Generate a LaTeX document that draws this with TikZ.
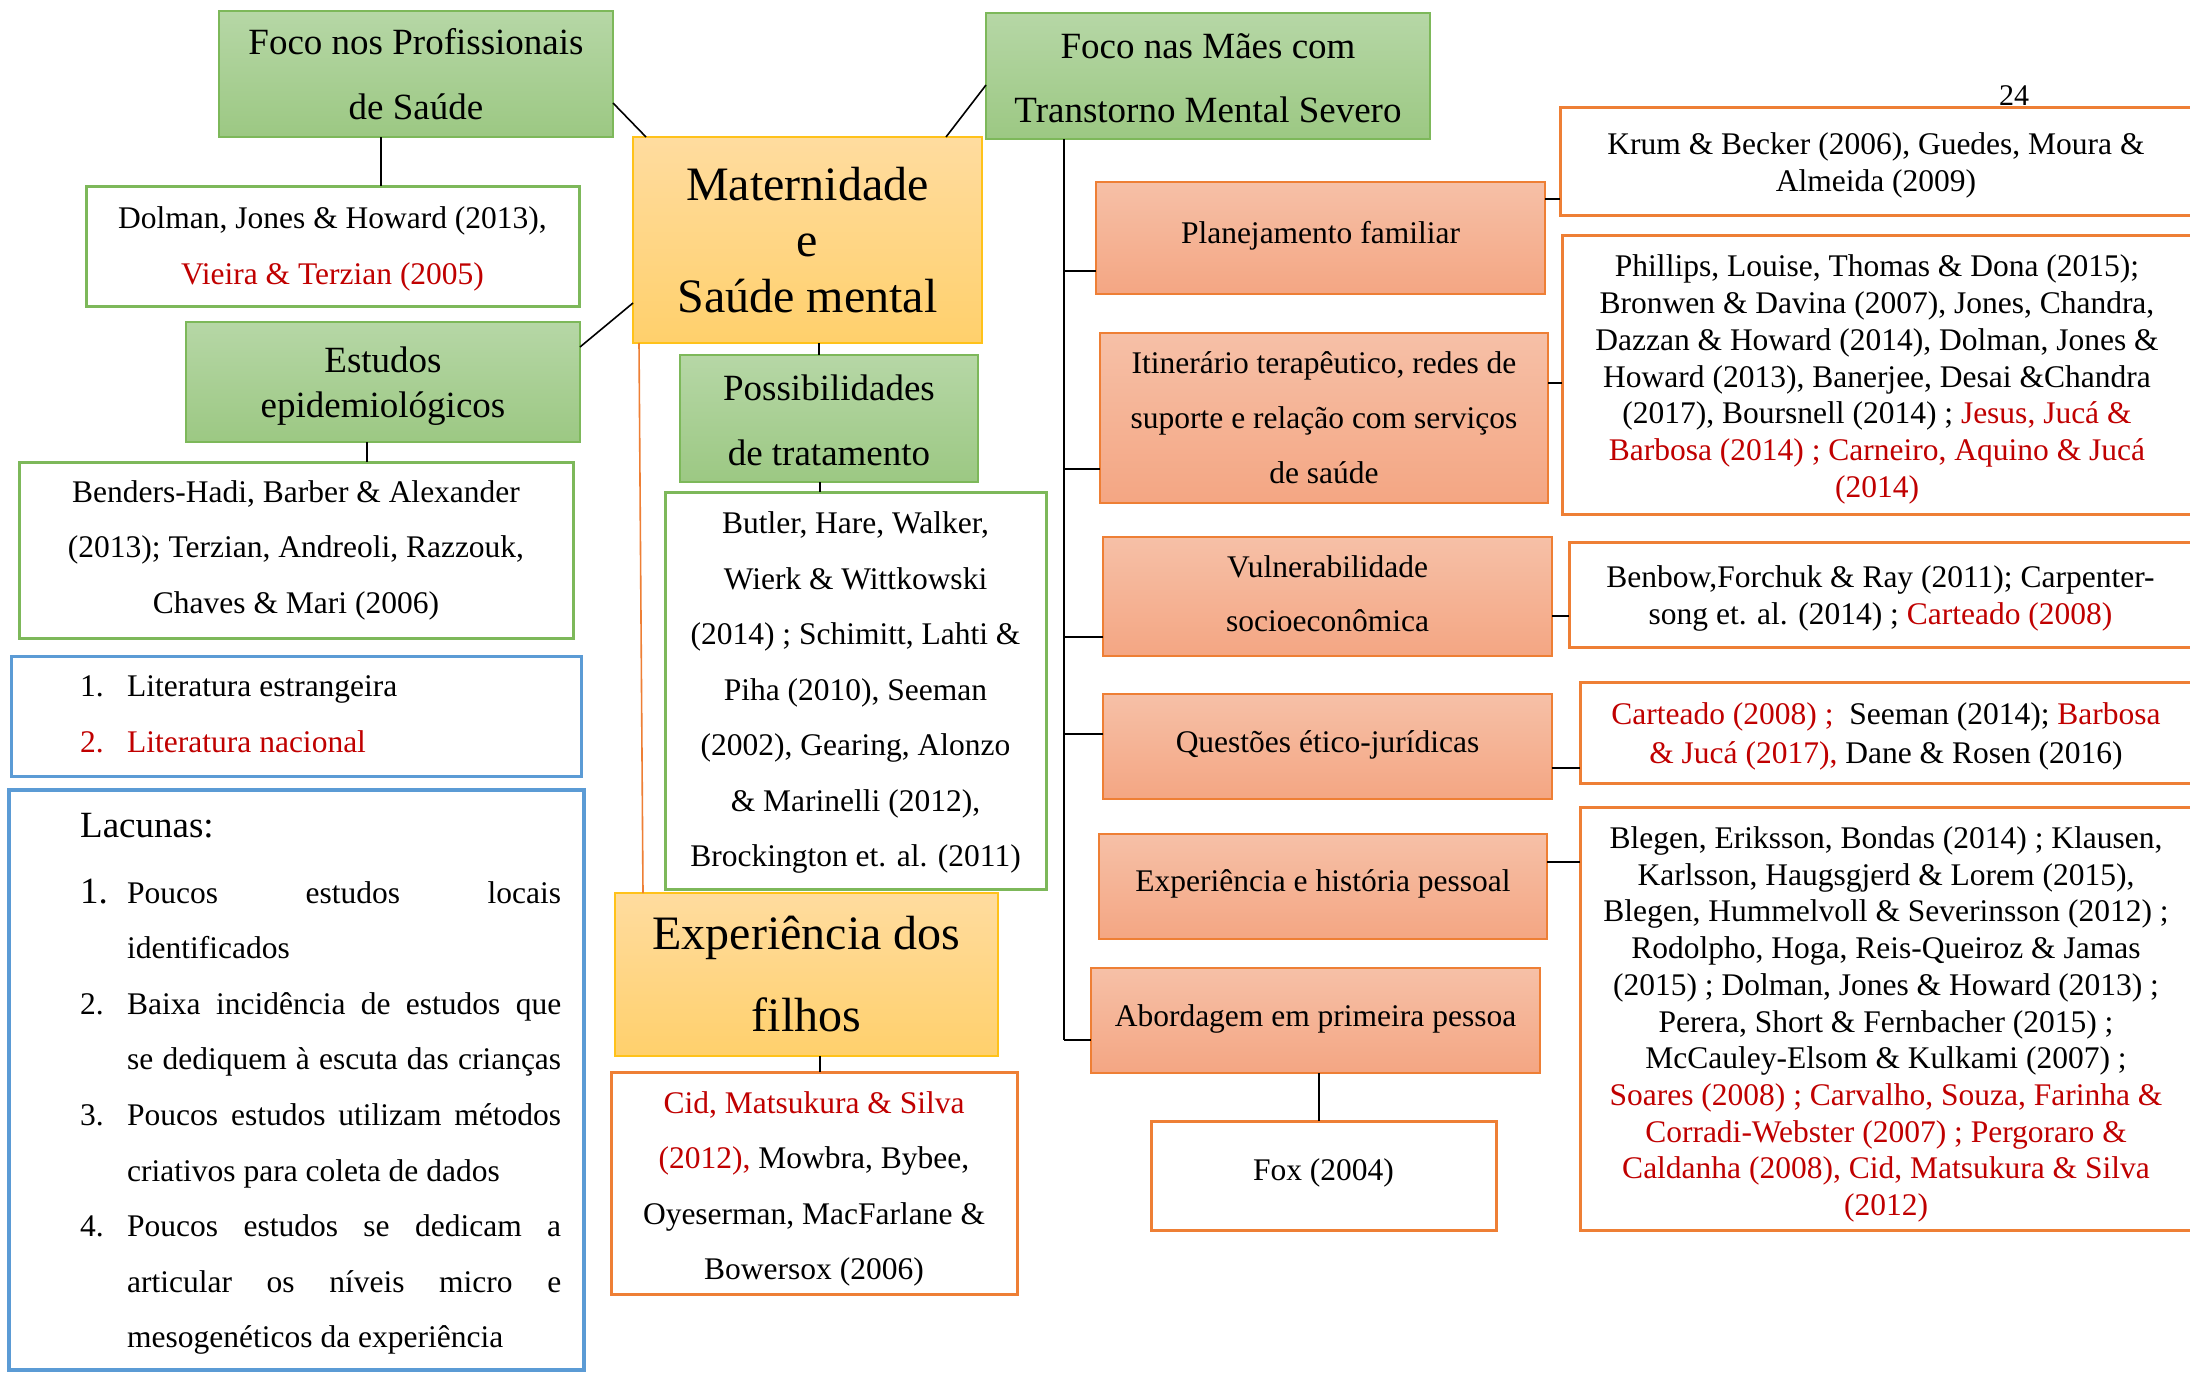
\documentclass[tikz,border=0pt]{standalone}
\usepackage{fontspec}
\setmainfont{Liberation Serif}
\usetikzlibrary{calc}
\definecolor{grTop}{HTML}{B6D7A6}
\definecolor{grBot}{HTML}{9CC883}
\definecolor{grLine}{HTML}{7DB85A}
\definecolor{ylTop}{HTML}{FFDC9F}
\definecolor{ylBot}{HTML}{FFD06C}
\definecolor{ylLine}{HTML}{FFC21A}
\definecolor{orTop}{HTML}{F6C0A7}
\definecolor{orBot}{HTML}{F4A683}
\definecolor{orLine}{HTML}{EE7F35}
\definecolor{blLine}{HTML}{5B9BD5}
\definecolor{refRed}{HTML}{C00000}
\newcommand{\rd}[1]{\textcolor{refRed}{#1}}
\newcommand{\sz}[2]{\fontsize{#1}{#2}\selectfont}
\tikzset{
  box/.style={rectangle, inner sep=0pt, outer sep=0pt, align=center},
  txt/.style={inner sep=0pt, outer sep=0pt, align=center},
  greenhead/.style={box, top color=grTop, bottom color=grBot, draw=grLine, line width=2pt, font=\sz{37}{65}},
  yellowhead/.style={box, top color=ylTop, bottom color=ylBot, draw=ylLine, line width=2pt},
  topic/.style={box, top color=orTop, bottom color=orBot, draw=orLine, line width=2pt, font=\sz{31.5}{55}},
  greenref/.style={box, fill=white, draw=grLine, line width=3pt, font=\sz{31.5}{55.5}},
  orangeref/.style={box, fill=white, draw=orLine, line width=3pt, font=\sz{31.5}{55.5}},
  orangelist/.style={box, fill=white, draw=orLine, line width=3pt, font=\sz{31.5}{37}},
  bluebox/.style={box, fill=white, draw=blLine},
  link/.style={draw=black, line width=1.6pt},
}
\begin{document}
\begin{tikzpicture}[x=1pt,y=-1pt]
\useasboundingbox (0,0) rectangle (2190,1373);
\clip (0,0) rectangle (2190,1373);
\fill[white] (0,0) rectangle (2190,1373);

% ---------- left half ----------
\node[greenhead, minimum width=394pt, minimum height=126pt] (fprof) at (416,74)
  {Foco nos Profissionais\\de Saúde};
\node[yellowhead, minimum width=349pt, minimum height=206pt, font=\sz{48}{56}] (mat) at (807.5,240)
  {Maternidade\\e\\Saúde mental};
\node[greenref, minimum width=493pt, minimum height=120pt] (dolman) at (332.5,246) {};
\node[txt, font=\sz{31.5}{55.5}] (dolmantext) at ($(dolman)+(0,3)$)
  {Dolman, Jones \& Howard (2013),\\\rd{Vieira \& Terzian (2005)}};
\node[greenhead, minimum width=394pt, minimum height=120pt] (estudos) at (383,382) {};
\node[txt, font=\sz{37}{45}] (estudostext) at ($(estudos)+(0,4)$)
  {Estudos\\epidemiológicos};
\node[greenref, minimum width=554pt, minimum height=176pt] (benders) at (296,550)
  {Benders-Hadi, Barber \& Alexander\\(2013); Terzian, Andreoli, Razzouk,\\Chaves \& Mari (2006)};
\node[greenhead, minimum width=298pt, minimum height=127pt] (possib) at (829,418.5) {};
\node[txt, font=\sz{37}{65}] (possibtext) at ($(possib)+(0,2)$)
  {Possibilidades\\de tratamento};
\node[greenref, minimum width=381pt, minimum height=397pt] (butler) at (855.5,690.5) {};
\node[txt, font=\sz{31.5}{55.5}] (butlertext) at ($(butler)+(0,2)$)
  {Butler, Hare, Walker,\\Wierk \& Wittkowski\\(2014) ; Schimitt, Lahti \&\\Piha (2010), Seeman\\(2002), Gearing, Alonzo\\\& Marinelli (2012),\\Brockington et. al. (2011)};
\node[yellowhead, minimum width=383pt, minimum height=163pt, font=\sz{48}{82}] (expf) at (806.5,974.5)
  {Experiência dos\\filhos};
\node[orangeref, minimum width=406pt, minimum height=222pt] (cid) at (814,1183) {};
\node[txt, font=\sz{31.5}{55.5}] (cidtext) at ($(cid)+(0,6)$)
  {\rd{Cid, Matsukura \& Silva}\\\rd{(2012),} Mowbra, Bybee,\\Oyeserman, MacFarlane \&\\Bowersox (2006)};

% literature legend
\node[bluebox, line width=3pt, minimum width=570pt, minimum height=120pt] (legend) at (296,716) {};
\node[anchor=west, align=left, inner sep=0pt, font=\sz{31.5}{56}] (legendtext) at (80,714)
  {\makebox[47pt][l]{1.}Literatura estrangeira\\\textcolor{refRed}{\makebox[47pt][l]{2.}Literatura nacional}};

% gaps in the literature
\node[bluebox, line width=4.5pt, minimum width=575pt, minimum height=580pt] (gaps) at (296.5,1080) {};
\node[anchor=west, align=left, inner sep=0pt, font=\sz{31.5}{55.6}] (gapstext) at (80,1084)
  {{\sz{37}{55.6}Lacunas:}\\[10pt]
   \makebox[47pt][l]{\sz{37}{55.6}1.}\makebox[434pt][s]{Poucos estudos locais}\\
   \hspace*{47pt}identificados\\
   \makebox[47pt][l]{2.}\makebox[434pt][s]{Baixa incidência de estudos que}\\
   \hspace*{47pt}\makebox[434pt][s]{se dediquem à escuta das crianças}\\
   \makebox[47pt][l]{3.}\makebox[434pt][s]{Poucos estudos utilizam métodos}\\
   \hspace*{47pt}criativos para coleta de dados\\
   \makebox[47pt][l]{4.}\makebox[434pt][s]{Poucos estudos se dedicam a}\\
   \hspace*{47pt}\makebox[434pt][s]{articular os níveis micro e}\\
   \hspace*{47pt}mesogenéticos da experiência};

% ---------- right half ----------
\node[greenhead, minimum width=444pt, minimum height=126pt] (fmaes) at (1208,76) {};
\node[txt, font=\sz{37}{64}] (fmaestext) at ($(fmaes)+(0,2)$)
  {Foco nas Mães com\\Transtorno Mental Severo};

\node[topic, minimum width=449pt, minimum height=112pt] (plan) at (1320.5,238)
  {\raisebox{12pt}{Planejamento familiar}};
\node[topic, minimum width=448pt, minimum height=170pt] (itin) at (1324,418)
  {Itinerário terapêutico, redes de\\suporte e relação com serviços\\de saúde};
\node[topic, minimum width=449pt, minimum height=119pt] (vuln) at (1327.5,596.5) {};
\node[txt, font=\sz{31.5}{54}] (vulntext) at ($(vuln)+(0,-3)$)
  {Vulnerabilidade\\socioeconômica};
\node[topic, minimum width=449pt, minimum height=105pt] (quest) at (1327.5,746.5)
  {\raisebox{10pt}{Questões ético-jurídicas}};
\node[topic, minimum width=448pt, minimum height=105pt] (exph) at (1323,886.5)
  {\raisebox{11pt}{Experiência e história pessoal}};
\node[topic, minimum width=449pt, minimum height=105pt] (abord) at (1315.5,1020.5)
  {\raisebox{9pt}{Abordagem em primeira pessoa}};
\node[orangeref, minimum width=345pt, minimum height=109pt] (fox) at (1323.5,1175.5)
  {\raisebox{11pt}{Fox (2004)}};

\node[orangelist, minimum width=632pt, minimum height=108pt] (krum) at (1876,161) {};
\node[txt, font=\sz{31.5}{37}] (krumtext) at ($(krum)+(0,4)$)
  {Krum \& Becker (2006), Guedes, Moura \&\\Almeida (2009)};
\node[orangelist, minimum width=630pt, minimum height=279pt] (phillips) at (1877,374.5) {};
\node[txt, font=\sz{31.5}{36.8}] (phillipstext) at ($(phillips)+(0,5)$)
  {Phillips, Louise, Thomas \& Dona (2015);\\
   Bronwen \& Davina (2007), Jones, Chandra,\\
   Dazzan \& Howard (2014), Dolman, Jones \&\\
   Howard (2013), Banerjee, Desai \&Chandra\\
   (2017), Boursnell (2014) ; \rd{Jesus, Jucá \&}\\
   \rd{Barbosa (2014) ; Carneiro, Aquino \& Jucá}\\
   \rd{(2014)}};
\node[orangelist, minimum width=623pt, minimum height=105pt] (benbow) at (1880.5,594.5) {};
\node[txt, font=\sz{31.5}{37}] (benbowtext) at ($(benbow)+(0,4)$)
  {Benbow,Forchuk \& Ray (2011); Carpenter-\\song et. al. (2014) ; \rd{Carteado (2008)}};
\node[orangelist, minimum width=612pt, minimum height=101pt] (carteado) at (1886,732.5) {};
\node[txt, font=\sz{31.5}{39}] (carteadotext) at ($(carteado)+(0,4)$)
  {\rd{Carteado (2008) ;}\ \ Seeman (2014); \rd{Barbosa}\\\rd{\& Jucá (2017),} Dane \& Rosen (2016)};
\node[orangelist, minimum width=612pt, minimum height=423pt] (blegen) at (1886,1018.5) {};
\node[txt, font=\sz{31.5}{36.7}] (blegentext) at ($(blegen)+(0,6)$)
  {Blegen, Eriksson, Bondas (2014) ; Klausen,\\
   Karlsson, Haugsgjerd \& Lorem (2015),\\
   Blegen, Hummelvoll \& Severinsson (2012) ;\\
   Rodolpho, Hoga, Reis-Queiroz \& Jamas\\
   (2015) ; Dolman, Jones \& Howard (2013) ;\\
   Perera, Short \& Fernbacher (2015) ;\\
   McCauley-Elsom \& Kulkami (2007) ;\\
   \rd{Soares (2008) ; Carvalho, Souza, Farinha \&}\\
   \rd{Corradi-Webster (2007) ; Pergoraro \&}\\
   \rd{Caldanha (2008), Cid, Matsukura \& Silva}\\
   \rd{(2012)}};

% page number
\node[inner sep=0pt, font=\sz{30}{36}] (pagenum) at (2014,96) {24};

% ---------- connectors: left half ----------
\draw[link] ($(fprof.north east)+(0,92)$) -- ($(mat.north west)+(13,0)$);
\draw[link] ($(fprof.south west)+(162,0)$) -- ($(dolman.north west)+(295,0)$);
\draw[link] ($(estudos.north east)+(0,25)$) -- ($(mat.south west)+(0,-40)$);
\draw[link] ($(estudos.south west)+(181,0)$) -- ($(benders.north west)+(348,0)$);
\draw[link] ($(mat.south west)+(186,0)$) -- ($(possib.north west)+(139,0)$);
\draw[link] ($(possib.south west)+(140,0)$) -- ($(butler.north west)+(155,0)$);
\draw[link] ($(expf.south west)+(205,0)$) -- ($(cid.north west)+(209,0)$);
\draw[draw=orLine, line width=1.6pt] ($(mat.south west)+(6,0)$) -- ($(expf.north west)+(28,0)$);
\draw[link] ($(mat.north east)+(-36,0)$) -- ($(fmaes.north west)+(0,72)$);

% ---------- connectors: right half ----------
\coordinate (spinetop) at ($(fmaes.south west)+(78,0)$);
\coordinate (spinebot) at (1064,1040);
\draw[link] (spinetop) -- (spinebot);
\coordinate (bplan) at ($(plan.north west)+(0,89)$);
\coordinate (bitin) at ($(itin.north west)+(0,136)$);
\coordinate (bvuln) at ($(vuln.north west)+(0,100)$);
\coordinate (bquest) at ($(quest.north west)+(0,40)$);
\draw[link] (bplan) -- (spinetop |- bplan);
\draw[link] (bitin) -- (spinetop |- bitin);
\draw[link] (bvuln) -- (spinetop |- bvuln);
\draw[link] (bquest) -- (spinetop |- bquest);
\draw[link] (spinebot) -- (abord.west |- spinebot);
\draw[link] ($(abord.south west)+(228,0)$) -- ($(fox.north west)+(168,0)$);

\coordinate (rkrum) at ($(krum.north west)+(0,92)$);
\coordinate (rphil) at ($(phillips.north west)+(0,148)$);
\coordinate (rbenb) at ($(benbow.north west)+(0,74)$);
\coordinate (rcart) at ($(carteado.north west)+(0,86)$);
\coordinate (rbleg) at ($(blegen.north west)+(0,55)$);
\draw[link] (rkrum) -- (plan.east |- rkrum);
\draw[link] (rphil) -- (itin.east |- rphil);
\draw[link] (rbenb) -- (vuln.east |- rbenb);
\draw[link] (rcart) -- (quest.east |- rcart);
\draw[link] (rbleg) -- (exph.east |- rbleg);
\end{tikzpicture}
\end{document}
